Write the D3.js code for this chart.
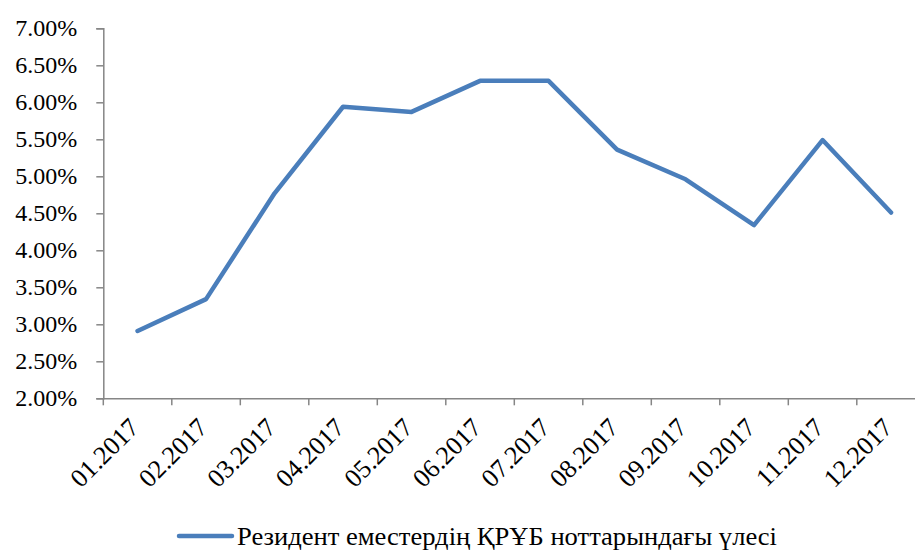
<!DOCTYPE html>
<html>
<head>
<meta charset="utf-8">
<script src="https://cdn.jsdelivr.net/npm/d3@7/dist/d3.min.js"></script>
<style>
  html, body { margin: 0; padding: 0; background: #fff; }
  svg { display: block; }
  text { font-family: "Liberation Serif", "Times New Roman", serif; fill: #000; }
</style>
</head>
<body>
<svg id="chart" width="915" height="551"></svg>
<script>
const categories = ["01.2017","02.2017","03.2017","04.2017","05.2017","06.2017",
                    "07.2017","08.2017","09.2017","10.2017","11.2017","12.2017"];
const seriesName = "Резидент еместердің ҚРҰБ ноттарындағы үлесі";
const values = [2.91, 3.34, 4.77, 5.94, 5.87, 6.29, 6.29, 5.36, 4.96, 4.34, 5.49, 4.51];
const yTicks = [2.0, 2.5, 3.0, 3.5, 4.0, 4.5, 5.0, 5.5, 6.0, 6.5, 7.0];

const svg = d3.select("#chart");
const axisColor = "#868686";
const lineColor = "#4a7ebb";

const x = d3.scaleBand().domain(categories).range([103.3, 925.3]);
const y = d3.scaleLinear().domain([2, 7]).range([398.3, 28.3]);

// Y axis
const yAxis = svg.append("g").attr("transform", "translate(103.3,0)")
  .call(d3.axisLeft(y).tickValues(yTicks).tickSize(7).tickPadding(19)
        .tickFormat(d => d.toFixed(2) + "%"));
yAxis.select(".domain").attr("stroke", axisColor).attr("stroke-width", 1.5);
yAxis.selectAll(".tick line").attr("stroke", axisColor).attr("stroke-width", 1.5);
yAxis.selectAll(".tick text").attr("font-size", 24).attr("font-family", "Liberation Serif")
  .attr("fill", "#000").attr("dy", "0.32em");

// X axis
const xAxis = svg.append("g").attr("transform", "translate(0,398.3)")
  .call(d3.axisBottom(x).tickSize(0).tickFormat(""));
xAxis.select(".domain").attr("stroke", axisColor).attr("stroke-width", 1.5);
xAxis.selectAll(".tick").remove();
// Boundary ticks between categories
const boundaries = categories.map(c => x(c));
xAxis.selectAll("line.bt").data(boundaries).enter().append("line")
  .attr("class", "bt")
  .attr("x1", d => d).attr("x2", d => d)
  .attr("y1", 0).attr("y2", 7)
  .attr("stroke", axisColor).attr("stroke-width", 1.5);

// X labels rotated
svg.append("g").selectAll("text").data(categories).enter().append("text")
  .attr("transform", d => `translate(${x(d) + x.bandwidth() / 2 + 3},429) rotate(-45)`)
  .attr("text-anchor", "end")
  .attr("font-size", 26)
  .text(d => d);

// Line
const line = d3.line()
  .x((d, i) => x(categories[i]) + x.bandwidth() / 2)
  .y(d => y(d));
svg.append("path").datum(values)
  .attr("d", line)
  .attr("fill", "none")
  .attr("stroke", lineColor)
  .attr("stroke-width", 4.5)
  .attr("stroke-linejoin", "round")
  .attr("stroke-linecap", "round");

// Legend
const lg = svg.append("g");
lg.append("line").attr("x1", 179).attr("x2", 232).attr("y1", 536).attr("y2", 536)
  .attr("stroke", lineColor).attr("stroke-width", 4.5).attr("stroke-linecap", "round");
lg.append("text").attr("x", 237).attr("y", 544.5).attr("font-size", 25)
  .attr("textLength", 540).attr("lengthAdjust", "spacingAndGlyphs")
  .text(seriesName);
</script>
</body>
</html>
